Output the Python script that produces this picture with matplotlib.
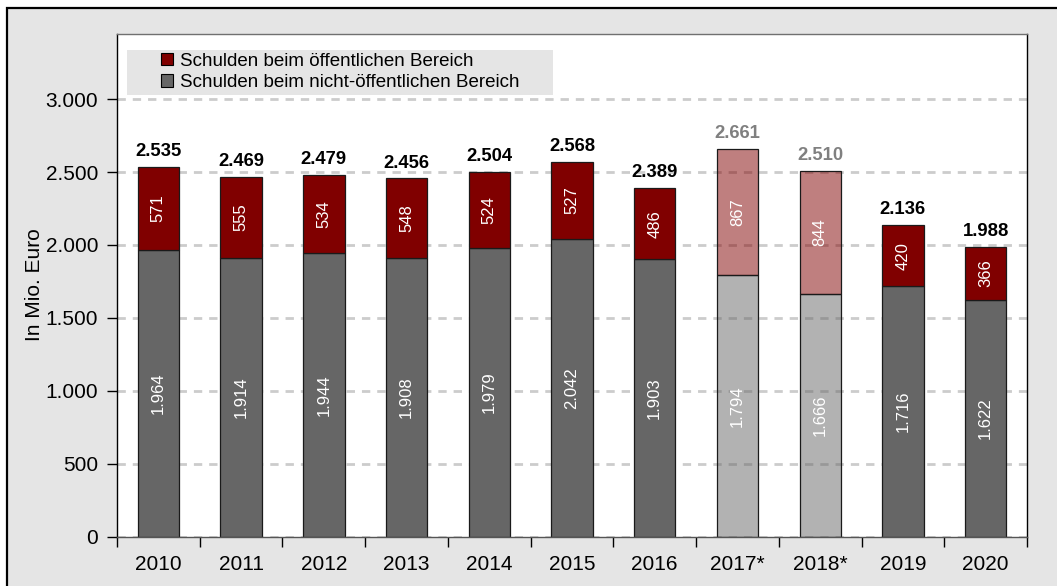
import matplotlib
matplotlib.use("Agg")
import matplotlib.pyplot as plt
from matplotlib.patches import Rectangle, Patch
from matplotlib.colors import to_rgba
from matplotlib.ticker import FuncFormatter, FixedLocator

plt.rcParams['font.family'] = ['Liberation Sans', 'DejaVu Sans']

# Schulden in Mio. Euro
years = ['2010', '2011', '2012', '2013', '2014', '2015', '2016', '2017*', '2018*', '2019', '2020']
public_debt = [571, 555, 534, 548, 524, 527, 486, 867, 844, 420, 366]
nonpublic_debt = [1964, 1914, 1944, 1908, 1979, 2042, 1903, 1794, 1666, 1716, 1622]
totals = [2535, 2469, 2479, 2456, 2504, 2568, 2389, 2661, 2510, 2136, 1988]
preliminary = [False, False, False, False, False, False, False, True, True, False, False]
y_ticks = [0, 500, 1000, 1500, 2000, 2500, 3000]

RED = '#800000'
GRAY = '#666666'
BG = '#E5E5E5'


def de(v):
    return f"{v:,.0f}".replace(',', '.')


W, H = 1057, 586
fig = plt.figure(figsize=(W / 100, H / 100), dpi=100, facecolor='white')

# grey frame around the chart
fig.patches.append(Rectangle((6.5 / W, -0.1), 1.2, 1 - 8 / H + 0.1,
                             transform=fig.transFigure, facecolor=BG,
                             edgecolor='black', lw=1.6, zorder=-10))

ax = fig.add_axes([117 / W, 49.3 / H, 910 / W, 503.2 / H])
ax.set_facecolor('white')
ax.set_axisbelow(True)

x = list(range(len(years)))
for i in x:
    a = 0.5 if preliminary[i] else 1.0
    ax.bar(i, nonpublic_debt[i], width=0.5, color=to_rgba(GRAY, a),
           edgecolor='#1a1a1a', lw=0.9, zorder=2)
    ax.bar(i, public_debt[i], bottom=nonpublic_debt[i], width=0.5,
           color=to_rgba(RED, a), edgecolor='#1a1a1a', lw=0.9, zorder=2)
    # segment values
    ax.text(i, nonpublic_debt[i] / 2, de(nonpublic_debt[i]), rotation=90,
            ha='center', va='center', color='white', fontsize=12, zorder=3)
    ax.text(i, nonpublic_debt[i] + public_debt[i] / 2, de(public_debt[i]),
            rotation=90, ha='center', va='center', color='white',
            fontsize=12, zorder=3)
    # total on top
    ax.annotate(de(totals[i]), (i, nonpublic_debt[i] + public_debt[i]),
                xytext=(0, 5), textcoords='offset points', ha='center',
                va='bottom', fontsize=13.3, fontweight='bold',
                color='#808080' if preliminary[i] else 'black', zorder=3)

ax.set_xlim(-0.5, len(years) - 0.5)
ax.set_ylim(0, 3450)

ax.yaxis.set_major_locator(FixedLocator(y_ticks))
ax.yaxis.set_major_formatter(FuncFormatter(lambda v, p: de(v)))
ax.tick_params(axis='y', length=7, width=1, pad=6.5, labelsize=15, colors='black')
ax.grid(axis='y', color='#CCCCCC', lw=2, linestyle=(0, (3, 2.5)), zorder=0.5)

# boundary ticks between categories, labels centred under bars
ax.set_xticks([i - 0.5 for i in range(len(years) + 1)])
ax.set_xticklabels([])
ax.set_xticks(x, minor=True)
ax.set_xticklabels(years, minor=True)
ax.tick_params(axis='x', which='major', length=7.5, width=1, direction='out')
ax.tick_params(axis='x', which='minor', length=0, pad=13.5, labelsize=15)

ax.set_ylabel('In Mio. Euro', fontsize=15, labelpad=1)

ax.spines['left'].set_color('black')
ax.spines['right'].set_color('black')
ax.spines['top'].set_color('#707070')
ax.spines['bottom'].set_color('#555555')
for s in ax.spines.values():
    s.set_linewidth(1)

# legend on a grey panel
ax.add_patch(Rectangle((10 / 910, 1 - 61.5 / 503.2), 426 / 910, 45 / 503.2,
                       transform=ax.transAxes, facecolor=BG, edgecolor='none',
                       zorder=4))
handles = [Patch(facecolor=RED, edgecolor='black', lw=0.8,
                 label='Schulden beim öffentlichen Bereich'),
           Patch(facecolor=GRAY, edgecolor='black', lw=0.8,
                 label='Schulden beim nicht-öffentlichen Bereich')]
leg = ax.legend(handles=handles, loc='upper left',
                bbox_to_anchor=(43.7 / 910, 1 - 19 / 503.2), frameon=False,
                borderpad=0, borderaxespad=0, handlelength=0.64,
                handleheight=0.64, handletextpad=0.39, labelspacing=0.25,
                fontsize=13.5)
leg.set_zorder(5)

fig.savefig('out.png', dpi=100, facecolor=fig.get_facecolor())
